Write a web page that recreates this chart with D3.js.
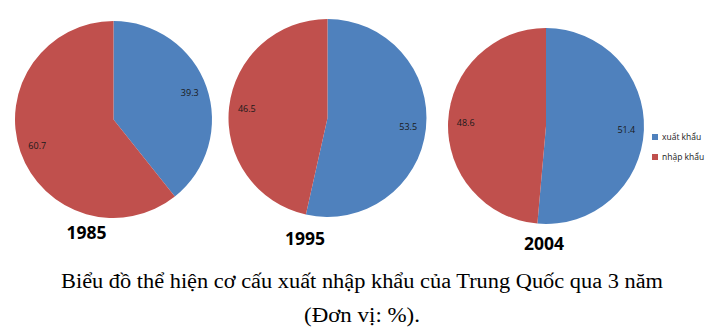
<!DOCTYPE html>
<html>
<head>
<meta charset="utf-8">
<script src="https://cdn.jsdelivr.net/npm/d3@7"></script>
<style>
  body { margin: 0; background: #fff; }
  svg { display: block; }
</style>
</head>
<body>
<svg id="chart" width="727" height="332"></svg>
<script>
// data
var years = ["1985", "1995", "2004"];
var categories = ["xuất khẩu", "nhập khẩu"];
var exportShare = [39.3, 53.5, 51.4];
var importShare = [60.7, 46.5, 48.6];
var colors = ["#4F81BD", "#C0504D"];
var caption = ["Biểu đồ thể hiện cơ cấu xuất nhập khẩu của Trung Quốc qua 3 năm", "(Đơn vị: %)."];

// pie placement (center x, center y, radius) and year label spots
var pieX = [113.5, 327.5, 546];
var pieY = [119.5, 118, 126];
var pieR = [98.5, 99, 98];
var yearX = [86.5, 305, 544];
var yearY = [238.5, 245, 250];

var svg = d3.select("#chart");

var pie = d3.pie().sort(null).value(function(d) { return d; });
var color = d3.scaleOrdinal().domain(categories).range(colors);

years.forEach(function(yr, i) {
    var vals = [exportShare[i], importShare[i]];
    var arcs = pie(vals);
    var arc = d3.arc().innerRadius(0).outerRadius(pieR[i]);
    var labelArc = d3.arc().innerRadius(pieR[i] * 0.82).outerRadius(pieR[i] * 0.82);

    var g = svg.append("g")
        .attr("transform", "translate(" + pieX[i] + "," + pieY[i] + ")");

    g.selectAll("path")
        .data(arcs).enter()
        .append("path")
        .attr("d", arc)
        .style("fill", function(d, j) { return color(categories[j]); });

    g.selectAll("text")
        .data(arcs).enter()
        .append("text")
        .attr("transform", function(d) { return "translate(" + labelArc.centroid(d) + ")"; })
        .attr("text-anchor", "middle")
        .attr("dy", "0.35em")
        .style("font-family", "'Open Sans', sans-serif")
        .style("font-size", "9px")
        .style("fill", "#1a1a1a")
        .text(function(d) { return d.value.toFixed(1); });

    // year under each pie
    svg.append("text")
        .attr("x", yearX[i])
        .attr("y", yearY[i])
        .attr("text-anchor", "middle")
        .style("font-family", "'Open Sans', sans-serif")
        .style("font-weight", "bold")
        .style("font-size", "17.5px")
        .style("fill", "#000")
        .text(yr);
});

// legend
var legend = svg.append("g").attr("transform", "translate(652,137)");
legend.selectAll("rect")
    .data(categories).enter()
    .append("rect")
    .attr("x", 0)
    .attr("y", function(d, j) { return j * 20 - 3; })
    .attr("width", 6)
    .attr("height", 6)
    .style("fill", function(d) { return color(d); });
legend.selectAll("text")
    .data(categories).enter()
    .append("text")
    .attr("x", 10)
    .attr("y", function(d, j) { return j * 20; })
    .attr("dy", "0.35em")
    .style("font-family", "'Open Sans', sans-serif")
    .style("font-size", "8.5px")
    .style("fill", "#1a1a1a")
    .text(function(d) { return d; });

// caption (the source text is a bit wider than Liberation Serif, so stretch to fit)
var capWidth = [602, 116];
svg.selectAll(".caption")
    .data(caption).enter()
    .append("text")
    .attr("class", "caption")
    .attr("x", 362)
    .attr("y", function(d, j) { return 288 + j * 34; })
    .attr("text-anchor", "middle")
    .attr("textLength", function(d, j) { return capWidth[j]; })
    .attr("lengthAdjust", "spacingAndGlyphs")
    .style("font-family", "'Liberation Serif', 'Times New Roman', serif")
    .style("font-size", "20.5px")
    .style("fill", "#000")
    .text(function(d) { return d; });
</script>
</body>
</html>
